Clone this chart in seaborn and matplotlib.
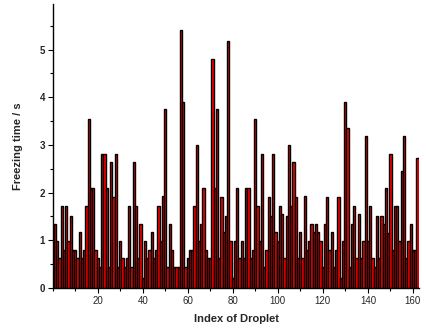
import numpy as np
import pandas as pd
import matplotlib
matplotlib.use("Agg")
import matplotlib.pyplot as plt
import seaborn as sns
from matplotlib.ticker import MultipleLocator

# =========================
# DATA
# =========================

freeze_1_38 = [1.35, 0.98, 0.62, 1.72, 0.8, 1.72, 0.98, 1.52, 0.8, 0.8,
               0.62, 1.18, 0.62, 0.8, 1.72, 3.55, 2.1, 2.1, 0.8, 0.62,
               0.45, 2.82, 2.82, 2.1, 0.45, 2.65, 1.9, 2.82, 0.45, 0.98,
               0.62, 0.45, 0.62, 1.72, 0.45, 2.65, 1.72, 0.62]
freeze_39_57 = [1.35, 0.2, 0.98, 0.62, 0.8, 1.18, 0.62, 0.8, 1.72, 0.98,
                1.92, 3.75, 0.45, 1.35, 0.8, 0.45, 0.45, 0.45, 5.4]
freeze_58_78 = [3.9, 0.45, 0.62, 0.8, 0.8, 1.72, 3.0, 0.98, 1.35, 2.1,
                0.8, 0.62, 0.62, 4.8, 2.1, 3.75, 0.62, 1.9, 1.18, 1.52, 5.18]
freeze_79_117 = [0.98, 0.2, 0.98, 2.1, 0.62, 0.98, 0.62, 2.1, 2.1, 0.62,
                 0.8, 3.55, 1.72, 0.98, 2.8, 0.45, 0.8, 1.9, 1.52, 2.82,
                 1.18, 0.98, 1.72, 1.55, 0.62, 1.52, 3.0, 1.72, 2.65, 1.9,
                 0.62, 1.18, 0.62, 1.92, 0.8, 0.98, 1.35, 1.18, 1.35]
freeze_118_162 = [1.18, 0.98, 0.45, 1.35, 1.9, 0.8, 1.18, 0.45, 0.8, 1.9,
                  0.2, 0.98, 3.9, 3.35, 0.45, 1.35, 1.72, 0.62, 1.55, 0.62,
                  0.98, 3.18, 0.98, 1.72, 0.62, 0.45, 1.52, 0.62, 1.52, 1.35,
                  2.1, 1.15, 2.82, 0.8, 1.72, 1.72, 0.98, 2.45, 3.18, 0.62,
                  0.98, 1.35, 0.8, 0.8, 2.72]

freezing_time = freeze_1_38 + freeze_39_57 + freeze_58_78 + freeze_79_117 + freeze_118_162
droplet_index = list(range(1, len(freezing_time) + 1))

x_ticks = [20, 40, 60, 80, 100, 120, 140, 160]
y_ticks = [0, 1, 2, 3, 4, 5]

df = pd.DataFrame({"Droplet": droplet_index, "Time": freezing_time})

# =========================
# PLOT
# =========================

sns.set_style("ticks")
plt.rcParams["font.family"] = ["Liberation Sans", "DejaVu Sans"]

fig = plt.figure(figsize=(4.26, 3.28), dpi=100)
ax = fig.add_axes([0.124, 0.122, 0.860, 0.865])

sns.barplot(data=df, x="Droplet", y="Time", native_scale=True,
            color="red", saturation=1, edgecolor="black",
            linewidth=1.0, width=1.0, ax=ax)

ax.set_xlim(0, 162.8)
ax.set_ylim(0, 5.95)
ax.set_xticks(x_ticks)
ax.set_yticks(y_ticks)
ax.xaxis.set_minor_locator(MultipleLocator(10))
ax.yaxis.set_minor_locator(MultipleLocator(0.5))

ax.tick_params(which="major", direction="out", length=3.5, width=0.8,
               labelsize=7, pad=2, color="black")
ax.tick_params(which="minor", direction="out", length=2, width=0.8, color="black")
for lab in ax.get_yticklabels():
    lab.set_fontweight("bold")

ax.set_xlabel("Index of Droplet", fontsize=8, fontweight="bold", labelpad=6)
ax.set_ylabel("Freezing time / s", fontsize=8, fontweight="bold", labelpad=12)

sns.despine(ax=ax)
for s in ["left", "bottom"]:
    ax.spines[s].set_linewidth(1.0)
    ax.spines[s].set_color("black")

plt.savefig("out.png", dpi=100)
